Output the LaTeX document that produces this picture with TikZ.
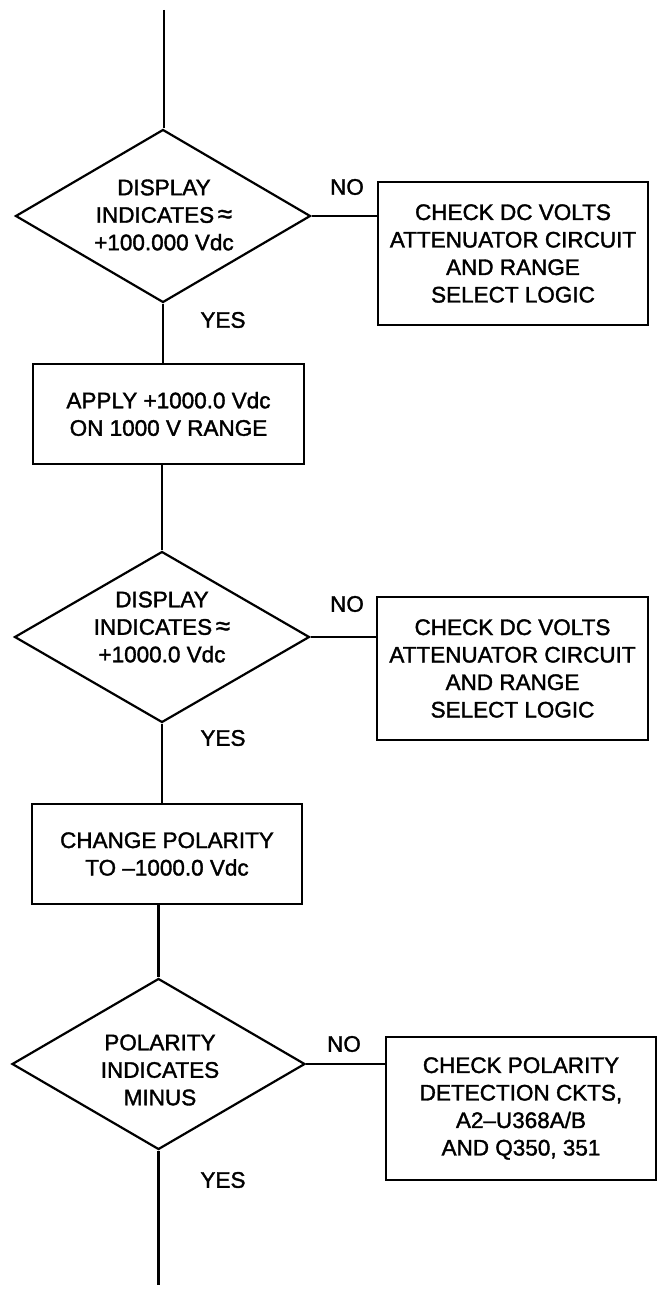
\documentclass[tikz,border=0pt]{standalone}
\usepackage{fontspec}
\setmainfont{Liberation Sans}
\newfontfamily\lett{Liberation Sans}[FakeBold=1.6]
\usetikzlibrary{shapes.geometric}
\begin{document}
\begin{tikzpicture}[x=1pt,y=-1pt,
  every node/.style={font=\lett\fontsize{22.5}{27.5}\selectfont},
  line/.style={line width=2.2pt},
  dia/.style={draw,line width=2.2pt,shape=diamond,inner sep=0pt},
  boxnode/.style={draw,line width=2pt,inner sep=0pt,align=center},
  txt/.style={align=center,inner sep=0pt},
  lbl/.style={inner sep=0pt}]
\useasboundingbox (0,0) rectangle (658,1289);
% decision diamonds
\node[dia,minimum width=295pt,minimum height=173pt] (d1) at (163,216) {};
\node[txt] (t1) at (164,215) {DISPLAY\\INDICATES\,{\fontsize{26}{27.5}\selectfont≈}\\+100.000 Vdc};
\node[dia,minimum width=295pt,minimum height=171pt] (d2) at (162,637) {};
\node[txt] (t2) at (162,627) {DISPLAY\\INDICATES\,{\fontsize{26}{27.5}\selectfont≈}\\+1000.0 Vdc};
\node[dia,minimum width=293pt,minimum height=171pt] (d3) at (158.5,1064) {};
\node[txt] (t3) at (160,1070) {POLARITY\\INDICATES\\MINUS};
% process boxes
\node[boxnode,minimum width=271pt,minimum height=100pt] (apply) at (168.5,414) {APPLY +1000.0 Vdc\\ON 1000 V RANGE};
\node[boxnode,minimum width=270pt,minimum height=100pt] (chg) at (167,854) {CHANGE POLARITY\\TO \textendash1000.0 Vdc};
% check boxes
\node[boxnode,minimum width=270pt,minimum height=143pt] (c1) at (513,253.5) {CHECK DC VOLTS\\ATTENUATOR CIRCUIT\\AND RANGE\\SELECT LOGIC};
\node[boxnode,minimum width=271pt,minimum height=143pt] (c2) at (512.5,668.5) {CHECK DC VOLTS\\ATTENUATOR CIRCUIT\\AND RANGE\\SELECT LOGIC};
\node[boxnode,minimum width=270pt,minimum height=143pt] (c3) at (521,1108.5) {CHECK POLARITY\\DETECTION CKTS,\\A2\textendash U368A/B\\AND Q350, 351};
% labels
\node[lbl] (no1) at (347,187) {NO};
\node[lbl] (no2) at (347,604) {NO};
\node[lbl] (no3) at (344,1044) {NO};
\node[lbl] (y1) at (223,320) {YES};
\node[lbl] (y2) at (223,738) {YES};
\node[lbl] (y3) at (223,1180) {YES};
% connectors
\coordinate (start) at (164,10);
\coordinate (endc) at (157,1285);
\draw[line] (start) -- (start |- d1.north);
\draw[line] (d1.south) -- (d1.south |- apply.north);
\draw[line] (d2.north |- apply.south) -- (d2.north);
\draw[line] (d2.south) -- (d2.south |- chg.north);
\draw[line] (d3.north |- chg.south) -- (d3.north);
\draw[line] (d3.south) -- (d3.south |- endc);
\draw[line] (d1.east) -- (d1.east -| c1.west);
\draw[line] (d2.east) -- (d2.east -| c2.west);
\draw[line] (d3.east) -- (d3.east -| c3.west);
\end{tikzpicture}
\end{document}
